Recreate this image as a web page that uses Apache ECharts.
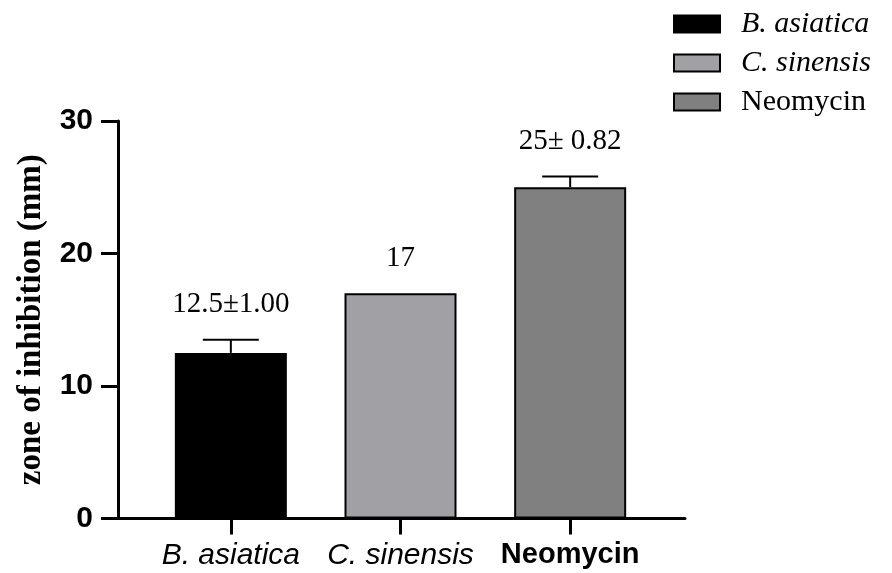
<!DOCTYPE html>
<html>
<head>
<meta charset="utf-8">
<script src="https://cdn.jsdelivr.net/npm/echarts@6/dist/echarts.min.js"></script>
<style>
  html, body { margin: 0; padding: 0; background: #fff; }
  #chart { width: 892px; height: 573px; }
</style>
</head>
<body>
<div id="chart"></div>
<script>
// Zone of inhibition per treatment (mean ± SD, mm)
const categories = ['B. asiatica', 'C. sinensis', 'Neomycin'];
const means = [12.5, 17, 25];
const sds = [1.00, 0, 0.82];
const valueLabels = ['12.5±1.00', '17', '25± 0.82'];
const barColors = ['#000000', '#a1a0a5', '#808080'];
const yMin = 0, yMax = 30, yStep = 10;

const SERIF = '"Liberation Serif", "Times New Roman", serif';
const SANS = '"Liberation Sans", Arial, sans-serif';

const chart = echarts.init(document.getElementById('chart'), null, { renderer: 'canvas' });

// one bar series per treatment so each gets its own legend entry
const barSeries = categories.map((name, i) => ({
  name: name,
  type: 'bar',
  xAxisIndex: 1,
  yAxisIndex: 1,
  barWidth: 112,
  barGap: '-100%',
  data: categories.map((_, j) => (j === i ? means[i] : '-')),
  itemStyle: { color: barColors[i], borderColor: '#000', borderWidth: 2 }
}));

// upper error whisker with cap, plus the value text above it
const errorSeries = {
  type: 'custom',
  xAxisIndex: 1,
  yAxisIndex: 1,
  z: 5,
  data: categories.map((_, i) => [i, means[i], means[i] + sds[i]]),
  renderItem: function (params, api) {
    const i = api.value(0);
    const base = api.coord([i, api.value(1)]);
    const top = api.coord([i, api.value(2)]);
    const capHalf = api.size([1, 0])[0] * 0.66 / 4;
    const children = [];
    if (api.value(2) > api.value(1)) {
      children.push({
        type: 'line',
        shape: { x1: base[0], y1: base[1], x2: top[0], y2: top[1] },
        style: { stroke: '#000', lineWidth: 2 }
      });
      children.push({
        type: 'line',
        shape: { x1: top[0] - capHalf, y1: top[1], x2: top[0] + capHalf, y2: top[1] },
        style: { stroke: '#000', lineWidth: 2 }
      });
    }
    children.push({
      type: 'text',
      x: top[0],
      y: top[1] - 35,
      style: {
        text: valueLabels[params.dataIndex],
        fill: '#000',
        font: '29px ' + SERIF,
        align: 'center',
        verticalAlign: 'middle'
      }
    });
    return { type: 'group', children: children };
  }
};

const legendRich = {
  it: { fontFamily: SERIF, fontStyle: 'italic', fontSize: 30, color: '#000' },
  rm: { fontFamily: SERIF, fontSize: 30, color: '#000' }
};
const xRich = {
  it: { fontFamily: SANS, fontStyle: 'italic', fontSize: 30, color: '#000' },
  bd: { fontFamily: SANS, fontWeight: 'bold', fontSize: 29, color: '#000' }
};

chart.setOption({
  animation: false,
  backgroundColor: '#fff',
  legend: {
    orient: 'vertical',
    left: 668,
    top: 4,
    icon: 'rect',
    itemWidth: 46,
    itemHeight: 17,
    itemGap: 9,
    selectedMode: false,
    data: categories,
    formatter: function (name) {
      return name === 'Neomycin' ? '{rm|' + name + '}' : '{it|' + name + '}';
    },
    textStyle: { rich: legendRich, padding: [0, 0, 0, 16] }
  },
  grid: [
    { left: 118, right: 207, top: 121, bottom: 54.5 },
    { left: 146, right: 237, top: 121, bottom: 54.5 }
  ],
  xAxis: [
    {
      gridIndex: 0,
      type: 'value',
      min: 0, max: 1,
      axisLine: { show: true, lineStyle: { color: '#000', width: 3 } },
      axisTick: { show: false },
      axisLabel: { show: false },
      splitLine: { show: false }
    },
    {
      gridIndex: 1,
      type: 'category',
      data: categories,
      axisLine: { show: false },
      axisTick: { show: true, alignWithLabel: true, length: 16, lineStyle: { color: '#000', width: 3 } },
      axisLabel: {
        margin: 22,
        formatter: function (v) {
          return v === 'Neomycin' ? '{bd|' + v + '}' : '{it|' + v + '}';
        },
        rich: xRich
      }
    }
  ],
  yAxis: [
    {
      gridIndex: 0,
      type: 'value',
      min: yMin, max: yMax, interval: yStep,
      name: 'zone of inhibition (mm)',
      nameLocation: 'middle',
      nameGap: 70,
      nameTextStyle: { fontFamily: SERIF, fontWeight: 'bold', fontSize: 33, color: '#000' },
      axisLine: { show: true, lineStyle: { color: '#000', width: 3 } },
      axisTick: { show: true, length: 17, lineStyle: { color: '#000', width: 3 } },
      axisLabel: { margin: 25, fontFamily: SANS, fontWeight: 'bold', fontSize: 30, color: '#000' },
      splitLine: { show: false }
    },
    {
      gridIndex: 1,
      type: 'value',
      min: yMin, max: yMax, interval: yStep,
      show: false
    }
  ],
  series: barSeries.concat([errorSeries])
});
</script>
</body>
</html>
